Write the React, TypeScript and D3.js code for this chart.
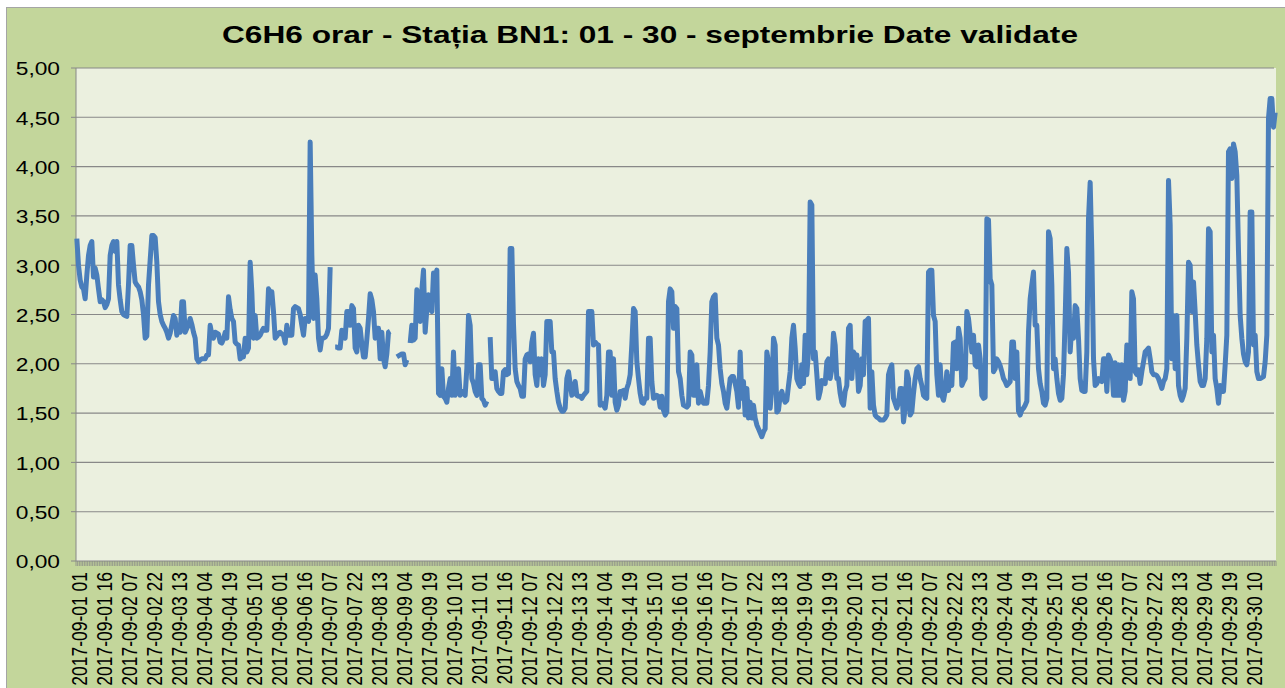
import React from 'react';
import * as d3 from 'd3';

const W = 1285;
const H = 688;
const plot = { left: 76, right: 1276, top: 68, bottom: 561 };

const title = 'C6H6 orar - Stația BN1: 01 - 30 - septembrie Date validate';

// hourly benzene values, one row per day (01 .. 24h), null = missing
const values: (number | null)[] = [
  3.27, 3.00, 2.85, 2.78, 2.76, 2.66, 2.90, 3.10, 3.20, 3.24, 2.88, 2.97, 2.90, 2.76, 2.63, 2.65, 2.63, 2.57, 2.60, 2.66, 3.10, 3.20, 3.24, 3.14,
  3.24, 2.80, 2.65, 2.53, 2.50, 2.49, 2.48, 2.80, 3.20, 3.20, 3.00, 2.83, 2.80, 2.78, 2.73, 2.65, 2.50, 2.26, 2.28, 2.80, 3.05, 3.30, 3.30, 3.28,
  3.03, 2.63, 2.50, 2.43, 2.39, 2.36, 2.32, 2.26, 2.31, 2.40, 2.49, 2.46, 2.29, 2.39, 2.32, 2.63, 2.63, 2.32, 2.36, 2.39, 2.46, 2.40, 2.32, 2.26,
  2.05, 2.02, 2.04, 2.05, 2.05, 2.05, 2.09, 2.09, 2.39, 2.30, 2.26, 2.32, 2.31, 2.30, 2.22, 2.21, 2.25, 2.32, 2.26, 2.68, 2.55, 2.46, 2.43, 2.22,
  2.20, 2.19, 2.05, 2.07, 2.07, 2.26, 2.12, 2.16, 3.03, 2.73, 2.26, 2.49, 2.26, 2.27, 2.29, 2.33, 2.36, 2.34, 2.34, 2.76, 2.73, 2.73, 2.53, 2.26,
  2.28, 2.31, 2.32, 2.30, 2.29, 2.21, 2.39, 2.29, 2.29, 2.29, 2.56, 2.58, 2.57, 2.56, 2.50, 2.39, 2.29, 2.46, 2.44, 2.43, 4.25, 3.10, 2.46, 2.90,
  2.66, 2.26, 2.14, 2.26, 2.26, 2.27, 2.30, 2.36, 2.98, null, null, 2.17, 2.17, 2.16, 2.16, 2.34, 2.30, 2.26, 2.53, 2.53, 2.39, 2.59, 2.56, 2.16,
  2.12, 2.39, 2.36, 2.20, 2.07, 2.07, 2.25, 2.46, 2.71, 2.65, 2.53, 2.26, 2.36, 2.36, 2.05, 2.32, 2.05, 1.97, 2.10, 2.32, 2.33, null, null, null,
  2.07, 2.08, 2.09, 2.10, 2.10, 1.99, 2.04, null, 2.21, 2.39, 2.24, 2.26, 2.75, 2.63, 2.43, 2.75, 2.95, 2.32, 2.55, 2.70, 2.56, 2.53, 2.92, 2.88,
  2.95, 1.70, 1.68, 1.95, 1.67, 1.65, 1.61, 1.75, 1.85, 1.68, 2.12, 1.68, 1.80, 1.95, 1.68, 1.72, 1.70, 1.68, 1.95, 2.49, 2.39, 1.85, 1.80, 1.72,
  1.68, 1.99, 1.99, 1.65, 1.63, 1.58, 1.62, null, 2.27, 1.85, 1.85, 1.92, 1.75, 1.72, 1.70, 1.70, 1.92, 1.94, 1.89, 1.90, 3.17, 3.17, 2.40, 1.95,
  1.82, 1.78, 1.75, 1.67, 1.67, 2.05, 2.09, 2.10, 2.02, 2.22, 2.31, 1.89, 1.78, 2.05, 1.89, 2.05, 1.78, 1.89, 2.43, 2.43, 2.43, 2.12, 2.12, 1.85,
  1.72, 1.61, 1.55, 1.52, 1.52, 1.55, 1.85, 1.92, 1.80, 1.68, 1.72, 1.82, 1.68, 1.67, 1.67, 1.65, 1.68, 1.70, 1.72, 2.53, 2.53, 2.53, 2.19, 2.22,
  2.20, 2.19, 1.58, 1.60, 1.58, 1.55, 1.68, 2.12, 2.12, 1.68, 2.05, 1.61, 1.53, 1.58, 1.72, 1.72, 1.73, 1.65, 1.75, 1.80, 1.89, 2.20, 2.56, 2.53,
  2.02, 1.85, 1.70, 1.61, 1.60, 1.65, 1.65, 2.26, 2.26, 1.82, 1.65, 1.66, 1.68, 1.67, 1.56, 1.67, 1.53, 1.48, 1.51, 2.63, 2.76, 2.73, 2.36, 2.58,
  2.56, 1.92, 1.85, 1.68, 1.58, 1.57, 1.56, 1.58, 2.12, 2.09, 1.68, 1.68, 1.99, 1.60, 1.72, 1.65, 1.60, 1.60, 1.60, 1.78, 2.12, 2.63, 2.68, 2.70,
  2.26, 2.19, 1.95, 1.80, 1.72, 1.60, 1.55, 1.70, 1.85, 1.87, 1.87, 1.80, 1.72, 1.56, 2.12, 1.65, 1.82, 1.48, 1.75, 1.45, 1.61, 1.45, 1.58, 1.45,
  1.38, 1.34, 1.30, 1.26, 1.31, 1.34, 2.12, 2.02, 1.55, 1.75, 2.26, 2.19, 1.51, 1.53, 1.68, 1.72, 1.65, 1.61, 1.63, 1.78, 1.92, 2.26, 2.39, 2.16,
  1.85, 1.80, 1.77, 1.99, 1.80, 2.29, 1.89, 2.12, 3.64, 3.61, 2.05, 2.12, 1.89, 1.65, 1.72, 1.83, 1.82, 1.80, 2.02, 2.05, 1.85, 1.95, 2.31, 2.19,
  1.85, 1.85, 1.70, 1.61, 1.58, 1.72, 1.78, 2.36, 2.39, 1.85, 2.12, 2.09, 2.09, 1.72, 1.78, 2.05, 1.89, 2.43, 2.44, 2.46, 1.55, 1.92, 1.58, 1.48,
  1.46, 1.45, 1.43, 1.43, 1.43, 1.45, 1.48, 1.89, 1.95, 1.99, 1.65, 1.60, 1.55, 1.61, 1.75, 1.75, 1.41, 1.55, 1.92, 1.85, 1.48, 1.51, 1.70, 1.85,
  1.95, 1.97, 1.85, 1.78, 1.68, 1.66, 1.65, 2.93, 2.95, 2.95, 2.49, 2.43, 1.89, 1.68, 1.99, 1.68, 1.63, 1.72, 1.92, 1.73, 1.87, 1.78, 2.21, 2.22,
  1.95, 2.36, 2.26, 1.78, 1.82, 1.85, 2.53, 2.46, 2.30, 2.12, 2.29, 1.99, 1.97, 2.19, 2.05, 1.68, 1.65, 1.66, 3.47, 3.46, 2.86, 2.80, 1.92, 1.95,
  2.05, 2.02, 1.98, 1.92, 1.85, 1.82, 1.78, 1.80, 1.82, 2.22, 2.22, 1.85, 2.12, 1.52, 1.48, 1.53, 1.55, 1.58, 1.62, 2.32, 2.66, 2.80, 2.93, 2.39,
  2.39, 1.95, 1.80, 1.72, 1.60, 1.58, 1.65, 3.34, 3.27, 2.80, 1.95, 2.05, 1.85, 1.70, 1.63, 1.65, 1.89, 2.46, 3.17, 2.93, 2.12, 2.39, 2.26, 2.59,
  2.56, 2.26, 1.85, 1.73, 1.72, 1.72, 2.12, 3.47, 3.84, 3.14, 2.05, 1.78, 1.80, 1.85, 1.83, 1.82, 2.05, 2.05, 1.72, 2.09, 2.05, 1.99, 1.68, 2.01,
  1.68, 1.99, 1.68, 1.99, 1.63, 1.72, 2.19, 2.16, 1.85, 2.73, 2.66, 1.92, 1.89, 1.94, 1.80, 1.92, 2.02, 2.12, 2.14, 2.16, 2.05, 1.92, 1.89, 1.89,
  1.88, 1.85, 1.80, 1.75, 1.82, 1.85, 1.95, 3.86, 3.41, 2.05, 2.49, 1.95, 2.49, 1.78, 1.68, 1.63, 1.68, 1.75, 2.26, 3.03, 3.00, 2.53, 2.83, 2.53,
  2.19, 1.99, 1.82, 1.78, 1.78, 1.85, 2.26, 3.37, 3.34, 2.12, 2.29, 1.85, 1.75, 1.60, 1.78, 1.72, 1.72, 1.99, 2.29, 4.15, 4.18, 3.88, 4.23, 4.15,
  3.91, 3.14, 2.49, 2.26, 2.10, 2.02, 1.99, 2.12, 3.54, 3.54, 2.19, 2.29, 1.92, 1.85, 1.85, 1.86, 1.87, 2.02, 2.29, 4.49, 4.69, 4.69, 4.40, 4.55,
];

// categories: every hour from 2017-09-01 01
const firstHour = Date.UTC(2017, 8, 1, 1);
const fmtHour = d3.utcFormat('%Y-%m-%d %H');
const categories = values.map((_, i) => fmtHour(new Date(firstHour + i * 3600e3)));
const labelEvery = 15;
const yTicks = [0, 0.5, 1, 1.5, 2, 2.5, 3, 3.5, 4, 4.5, 5];

const fmtY = (v: number) => d3.format('.2f')(v).replace('.', ',');

export default function App() {
  const x = d3.scaleBand<string>().domain(categories).range([plot.left, plot.right]);
  const y = d3.scaleLinear().domain([0, 5]).range([plot.bottom, plot.top]);
  const bw = x.bandwidth();

  const line = d3.line<number | null>()
    .defined((d) => d != null)
    .x((_, i) => (x(categories[i]) as number) + bw / 2)
    .y((d) => y(d as number));

  const tickXs = categories.map((c) => x(c) as number).concat([plot.right]);

  return (
    <svg width={W} height={H} style={{ position: 'absolute', left: 0, top: 0 }}
      fontFamily="'Liberation Sans', Arial, sans-serif">
      <rect x={0} y={0} width={W} height={H} fill="#ffffff" />
      <rect x={6.5} y={7.5} width={W + 10} height={H + 10} fill="#C3D69B" stroke="#A5A5A5" />

      <text x={650} y={43} fontSize={23.3} fontWeight="bold" textAnchor="middle"
        textLength={856} lengthAdjust="spacingAndGlyphs" fill="#000">{title}</text>

      <rect x={plot.left} y={plot.top} width={plot.right - plot.left} height={plot.bottom - plot.top} fill="#EBF0DF" />

      {yTicks.map((t) => (
        <g key={t}>
          {t > 0 && (
            <line x1={plot.left} x2={plot.right - 2} y1={y(t)} y2={y(t)} stroke="#888888" strokeWidth={1.1} />
          )}
          <line x1={plot.left - 5} x2={plot.left} y1={y(t)} y2={y(t)} stroke="#888888" />
          <text transform={`translate(60,${y(t) + 7.3}) scale(1.3,1)`} fontSize={17.5} textAnchor="end" fill="#000">
            {fmtY(t)}
          </text>
        </g>
      ))}

      <line x1={plot.left} x2={plot.left} y1={plot.top} y2={plot.bottom} stroke="#888888" />
      <line x1={plot.left} x2={plot.right} y1={plot.bottom} y2={plot.bottom} stroke="#888888" />
      {tickXs.map((tx, i) => (
        <line key={i} x1={tx} x2={tx} y1={plot.bottom} y2={plot.bottom + 5} stroke="#888888" strokeWidth={0.8} />
      ))}

      {categories.map((c, i) => i % labelEvery === 0 && (
        <text key={c} transform={`translate(${(x(c) as number) + bw / 2 + 1.5},572) scale(1.3,1) rotate(-90)`}
          fontSize={17.5} textAnchor="end" dy="0.36em" fill="#000">{c}</text>
      ))}

      <path d={line(values) ?? ''} fill="none" stroke="#4A7EBB" strokeWidth={5}
        strokeLinejoin="round" strokeLinecap="butt" />
    </svg>
  );
}
